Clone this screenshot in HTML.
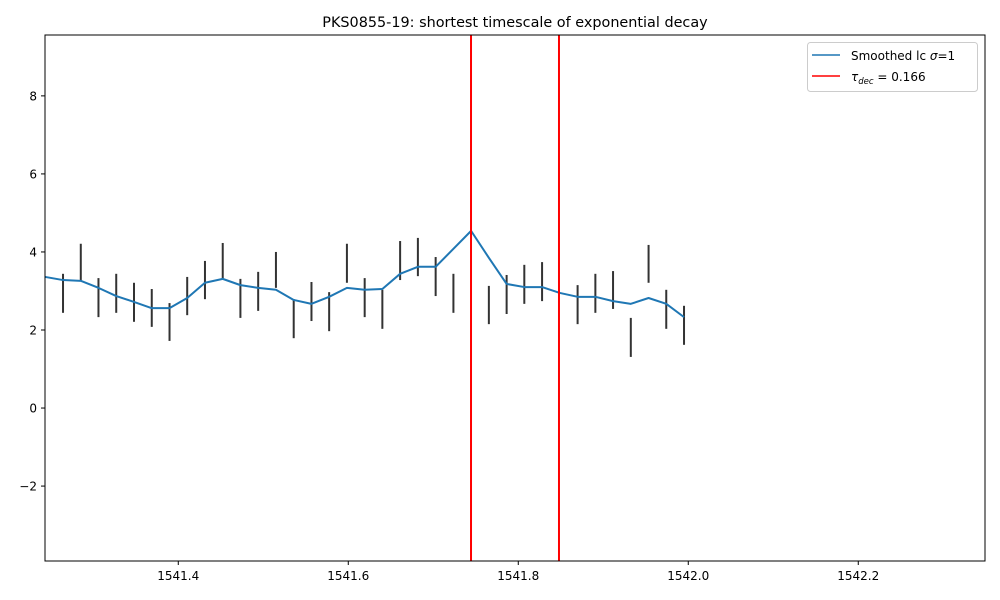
<!DOCTYPE html>
<html><head><meta charset="utf-8"><style>
body{margin:0;background:#fff;}
svg{display:block;font-family:"DejaVu Sans","Liberation Sans",sans-serif;}
</style></head><body>
<svg id="chart" width="1000" height="600">
<text x="515" y="27" text-anchor="middle" font-size="14.4">PKS0855-19: shortest timescale of exponential decay</text>
<g id="plot"></g>
<rect x="45" y="35" width="940" height="526" fill="none" stroke="#000" stroke-width="1"/>
<g>
<rect x="807.5" y="42.5" width="170" height="49" rx="3" fill="#fff" stroke="#ccc"/>
<line x1="812" y1="55" x2="840" y2="55" stroke="#1f77b4" stroke-width="1.5"/>
<text x="851" y="60" font-size="12">Smoothed lc <tspan font-style="italic">σ</tspan>=1</text>
<line x1="812" y1="76" x2="840" y2="76" stroke="#f00" stroke-width="1.5"/>
<text x="851" y="81" font-size="12"><tspan font-style="italic">τ</tspan><tspan font-size="8.5" font-style="italic" dy="3">dec</tspan><tspan dy="-3"> = 0.166</tspan></text>
</g>
</svg>
<script>
const lineTimes=[1541.2435,1541.2644,1541.2853,1541.3061,1541.3270,1541.3479,1541.3688,1541.3897,1541.4105,1541.4314,1541.4523,1541.4731,1541.4940,1541.5149,1541.5358,1541.5567,1541.5775,1541.5984,1541.6193,1541.6401,1541.6610,1541.6819,1541.7028,1541.7237,1541.7445,1541.7654,1541.7863,1541.8071,1541.8280,1541.8489,1541.8698,1541.8907,1541.9115,1541.9324,1541.9533,1541.9741,1541.9950];
const lineValues=[3.36,3.28,3.26,3.08,2.87,2.72,2.56,2.56,2.82,3.21,3.31,3.15,3.08,3.03,2.77,2.67,2.85,3.08,3.03,3.05,3.44,3.62,3.62,4.08,4.54,3.85,3.18,3.10,3.10,2.95,2.85,2.85,2.74,2.67,2.82,2.67,2.33];
const barTimes=[1541.2644,1541.2853,1541.3061,1541.3270,1541.3479,1541.3688,1541.3897,1541.4105,1541.4314,1541.4523,1541.4731,1541.4940,1541.5149,1541.5358,1541.5567,1541.5775,1541.5984,1541.6193,1541.6401,1541.6610,1541.6819,1541.7028,1541.7237,1541.7654,1541.7863,1541.8071,1541.8280,1541.8698,1541.8907,1541.9115,1541.9324,1541.9533,1541.9741,1541.9950];
const barHigh=[3.44,4.21,3.33,3.44,3.21,3.05,2.69,3.36,3.77,4.23,3.31,3.49,4.00,2.79,3.23,2.97,4.21,3.33,3.03,4.28,4.36,3.87,3.44,3.13,3.41,3.67,3.74,3.15,3.44,3.51,2.31,4.18,3.03,2.62];
const barLow=[2.44,3.26,2.33,2.44,2.21,2.08,1.72,2.38,2.79,3.31,2.31,2.49,3.08,1.79,2.23,1.97,3.21,2.33,2.03,3.28,3.38,2.87,2.44,2.15,2.41,2.67,2.74,2.15,2.44,2.54,1.31,3.21,2.03,1.62];
const vlines=[1541.7444,1541.8479];
const xTicks=[1541.4,1541.6,1541.8,1542.0,1542.2];
const yTicks=[-2,0,2,4,6,8];
const XMIN=1541.2432,XMAX=1542.3491,YMIN=-3.92,YMAX=9.56;
const L=45,R=985,T=35,B=561;
const sx=v=>L+(v-XMIN)/(XMAX-XMIN)*(R-L);
const sy=v=>B-(v-YMIN)/(YMAX-YMIN)*(B-T);
const NS='http://www.w3.org/2000/svg';
const g=document.getElementById('plot');
function mk(t,a){const e=document.createElementNS(NS,t);for(const k in a)e.setAttribute(k,a[k]);g.appendChild(e);return e;}
barTimes.forEach((t,i)=>{
 const e=mk('line',{x1:sx(t),x2:sx(t),y1:sy(barHigh[i]),y2:sy(barLow[i]),stroke:'#333','stroke-width':2});
 
 
});
const p=mk('polyline',{points:lineTimes.map((t,i)=>sx(t)+','+sy(lineValues[i])).join(' '),fill:'none',stroke:'#1f77b4','stroke-width':2,'stroke-linejoin':'round'});


vlines.forEach(v=>{
 const e=mk('line',{x1:sx(v),x2:sx(v),y1:T,y2:B,stroke:'#f00','stroke-width':2});
 
 
});
xTicks.forEach(v=>{
 const x=sx(v);
 const tk=mk('line',{x1:x,x2:x,y1:B,y2:B+4,stroke:'#000'});
 
 
 const tx=mk('text',{x:x,y:B+19,'text-anchor':'middle','font-size':12});
 tx.textContent=v.toFixed(1);
 
 
});
yTicks.forEach(v=>{
 const y=sy(v);
 const tk=mk('line',{x1:L-4,x2:L,y1:y,y2:y,stroke:'#000'});
 
 
 const tx=mk('text',{x:L-8,y:y+4.5,'text-anchor':'end','font-size':12});
 tx.textContent=v<0?'\u2212'+Math.abs(v):String(v);
 
 
});
</script>
</body></html>
